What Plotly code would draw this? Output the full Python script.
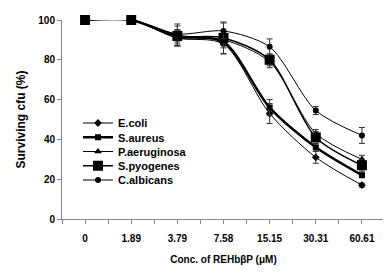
import plotly.graph_objects as go

categories = ["0", "1.89", "3.79", "7.58", "15.15", "30.31", "60.61"]
ecoli = [100, 100, 91, 88, 53, 31, 17]
ecoli_err = [0, 0, 4, 5, 5, 3, 1]
saureus = [100, 100, 92, 89, 56, 36, 22]
saureus_err = [0, 0, 3, 3, 4, 2, 1]
paerug = [100, 100, 91, 90, 79, 43, 30]
paerug_err = [0, 0, 4, 3, 3, 2, 2]
spyog = [100, 100, 92, 91, 80, 41, 27]
spyog_err = [0, 0, 5, 8, 3, 3, 3]
calb = [100, 100, 93, 94.5, 86.5, 54.5, 42]
calb_err = [0, 0, 5, 4, 4, 2, 4]

series = [
    ("E.coli", ecoli, ecoli_err, "diamond", 6, 1),
    ("S.aureus", saureus, saureus_err, "square", 6, 2.5),
    ("P.aeruginosa", paerug, paerug_err, "triangle-up", 7, 1),
    ("S.pyogenes", spyog, spyog_err, "square", 10, 1.5),
    ("C.albicans", calb, calb_err, "circle", 6, 1),
]

OFF = 8  # default page body margin
W, H = 391 - OFF, 275 - OFF
# target plot area in page pixels: x 62..385, y 20..219
ML, MT = 62 - OFF, 20 - OFF
MR = W - (385 - OFF)
MB = H - (219 - OFF)
PH = H - MT - MB
PW = W - ML - MR

x_idx = list(range(len(categories)))
fig = go.Figure()
legend_ids = ["legend", "legend2", "legend3", "legend4", "legend5"]
for k, (name, vals, err, sym, size, lw) in enumerate(series):
    fig.add_trace(go.Scatter(
        x=x_idx, y=vals, name=name, mode="lines+markers",
        line=dict(color="black", width=lw, shape="spline", smoothing=0.8),
        marker=dict(symbol=sym, size=size, color="black"),
        error_y=dict(type="data", array=err, color="#333", thickness=1, width=3),
        cliponaxis=False, legend=legend_ids[k],
    ))

bold = dict(family="Liberation Sans, Arial", size=10, color="black", weight="bold")
leg_font = dict(family="Liberation Sans, Arial", size=11, color="black", weight="bold")
legend_x = (78 - 62) / PW
leg_layout = {}
for k, lid in enumerate(legend_ids):
    ypx = 123 + 14.25 * k
    leg_layout[lid] = dict(x=legend_x, y=(219 - ypx) / PH, xanchor="left",
                           yanchor="middle", bgcolor="rgba(0,0,0,0)",
                           font=leg_font, itemwidth=30)

tv = [i * 0.5 - 0.5 for i in range(15)]
tt = [categories[int(v)] if v >= 0 and v == int(v) else "" for v in tv]
fig.update_layout(
    width=W, height=H,
    margin=dict(l=ML, r=MR, t=MT, b=MB),
    plot_bgcolor="white", paper_bgcolor="white",
    font=bold,
    showlegend=True,
    **leg_layout,
    xaxis=dict(range=[-0.5, 6.5], tickvals=tv, ticktext=tt, showgrid=False,
               zeroline=False, showline=True, linecolor="#888", linewidth=1,
               ticks="outside", ticklen=4, tickcolor="#888", tickfont=bold,
               ticklabelstandoff=6, automargin=False,
               title=dict(text="Conc. of REHbβP (μM)",
                          font=dict(family="Liberation Sans, Arial", size=10,
                                    color="black", weight="bold"), standoff=12)),
    yaxis=dict(range=[0, 100], tickvals=[0, 20, 40, 60, 80, 100], showgrid=False,
               zeroline=False, showline=True, linecolor="#888", linewidth=1,
               ticks="outside", ticklen=4, tickcolor="#888", tickfont=bold,
               automargin=False,
               title=dict(text="Surviving cfu (%)",
                          font=dict(family="Liberation Sans, Arial", size=12,
                                    color="black", weight="bold"), standoff=10)),
)
fig.write_html("out.html")
